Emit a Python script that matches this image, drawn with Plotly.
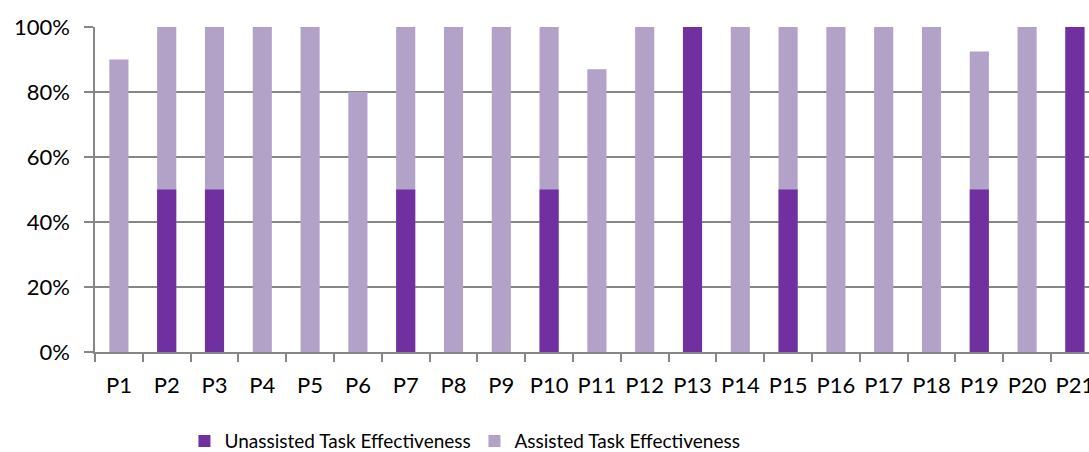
import plotly.graph_objects as go

participants = [f"P{i}" for i in range(1, 22)]
unassisted = [0, 0.5, 0.5, 0, 0, 0, 0.5, 0, 0, 0.5, 0, 0, 1.0, 0, 0.5, 0, 0, 0, 0.5, 0, 1.0]
assisted = [0.9, 1.0, 1.0, 1.0, 1.0, 0.8, 1.0, 1.0, 1.0, 1.0, 0.87, 1.0, 1.0, 1.0, 1.0, 1.0, 1.0, 1.0, 0.925, 1.0, 1.0]

DARK = "#7030A0"
LIGHT = "#B3A2C7"
AXIS = "#868686"
FONT = "Lato, sans-serif"

fig = go.Figure()
# Assisted bars sit behind; unassisted overlay in front
fig.add_trace(go.Bar(x=participants, y=assisted, name="Assisted Task Effectiveness",
                     marker=dict(color=LIGHT, line=dict(width=0)), width=0.4))
fig.add_trace(go.Bar(x=participants, y=unassisted, name="Unassisted Task Effectiveness",
                     marker=dict(color=DARK, line=dict(width=0)), width=0.4))

fig.update_layout(
    width=1089, height=452,
    margin=dict(l=95, r=0, t=27, b=100),
    barmode="overlay",
    paper_bgcolor="white", plot_bgcolor="white",
    font=dict(family=FONT, size=22, color="#000000"),
    showlegend=True,
    legend=dict(orientation="h", traceorder="reversed",
                x=0.09, xanchor="left", xref="paper",
                y=0.024, yanchor="middle", yref="container",
                font=dict(size=19), entrywidth=245, itemwidth=30),
    hovermode=False,
)
fig.update_xaxes(
    type="category", range=[-0.5, 20.295], automargin=False, tickangle=0,
    showline=True, linecolor=AXIS, linewidth=1.5,
    ticks="outside", tickson="boundaries", ticklen=8, tickcolor=AXIS, tickwidth=1.5,
    showgrid=False, tickfont=dict(size=22), ticklabelstandoff=13,
)
fig.update_yaxes(
    range=[0, 1], dtick=0.2, tickformat=".0%", automargin=False,
    showline=True, linecolor=AXIS, linewidth=1.5,
    ticks="outside", ticklen=9, tickcolor=AXIS, tickwidth=1.5,
    showgrid=True, gridcolor=AXIS, gridwidth=1.5, zeroline=False,
    tickfont=dict(size=22), ticklabelstandoff=10,
)

fig.write_html("out.html")
